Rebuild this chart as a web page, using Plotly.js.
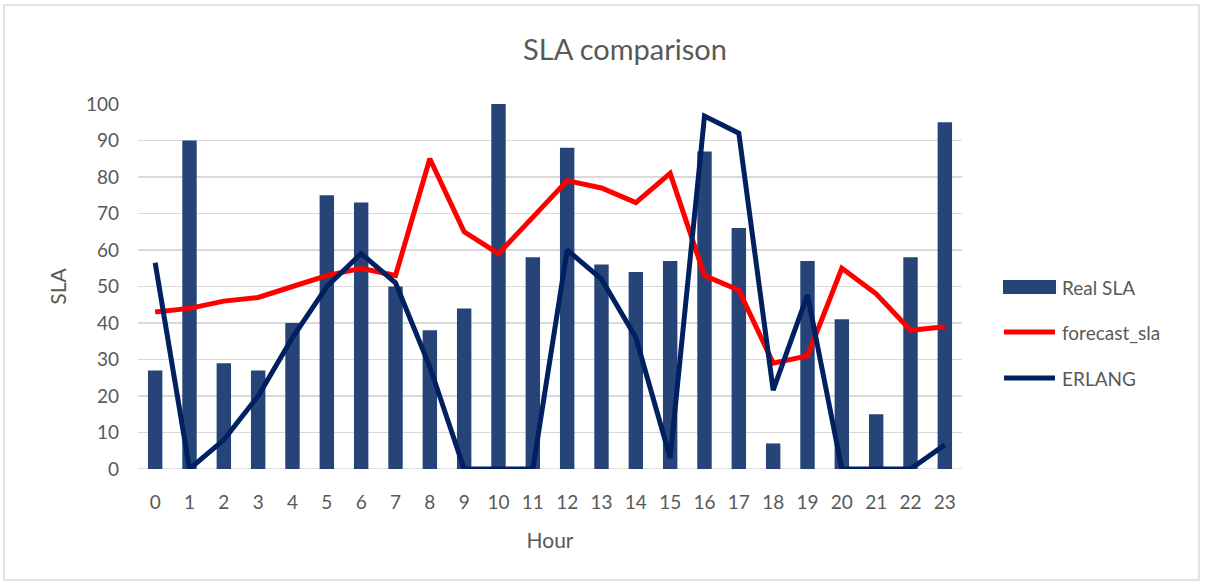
<!DOCTYPE html>
<html>
<head>
<meta charset="utf-8">
<script src="https://cdn.plot.ly/plotly-3.0.1.min.js"></script>
<style>html,body{margin:0;padding:0;background:#fff;}#chart{width:1205px;height:585px;}</style>
</head>
<body>
<div id="chart"></div>
<script>
const hours = [0,1,2,3,4,5,6,7,8,9,10,11,12,13,14,15,16,17,18,19,20,21,22,23];
const hourLabels = hours.map(String);
const realSLA = [27,90,29,27,40,75,73,50,38,44,100,58,88,56,54,57,87,66,7,57,41,15,58,95];
const forecastSLA = [43,44,46,47,50,53,55,53,85,65,59,69,79,77,73,81,53,49,29,31,55,48,38,39];
const erlang = [56.5,0,8,20,36,50,59,51,28,0,0,0,60,52,36,3,96.7,92,21.6,47.7,0,0,0,6.6];
const seriesNames = ['Real SLA','forecast_sla','ERLANG'];
const seriesColors = ['#264478','#ff0000','#002060'];

const FONT = "Lato, 'Open Sans', sans-serif";
const GREY = '#595959';

const traces = [
  {type:'bar', name:seriesNames[0], x:hours, y:realSLA, width:0.42,
   marker:{color:seriesColors[0]}, showlegend:false},
  {type:'scatter', mode:'lines', name:seriesNames[1], x:hours, y:forecastSLA,
   line:{color:seriesColors[1], width:5}, showlegend:false},
  {type:'scatter', mode:'lines', name:seriesNames[2], x:hours, y:erlang,
   line:{color:seriesColors[2], width:5}, showlegend:false}
];

const L=138, R=962, T=104, B=469, W=1205, H=585;
const pw=R-L, ph=B-T;
const px = v => (v-L)/pw;
const py = v => (B-v)/ph;

// custom legend (Excel style)
const legY = [287, 332, 378];
const shapes = [
  {type:'line', xref:'paper', yref:'y', x0:0, x1:1, y0:0, y1:0, line:{color:'#d9d9d9', width:1.5}, layer:'below'},
  {type:'rect', xref:'paper', yref:'paper', x0:px(4), x1:px(1199), y0:py(580), y1:py(5), line:{color:'#d9d9d9', width:1.5}, fillcolor:'rgba(0,0,0,0)', layer:'below'},
  {type:'rect', xref:'paper', yref:'paper', x0:px(1003), x1:px(1056), y0:py(legY[0]+7), y1:py(legY[0]-7), line:{width:0}, fillcolor:seriesColors[0]},
  {type:'line', xref:'paper', yref:'paper', x0:px(1004), x1:px(1055), y0:py(legY[1]), y1:py(legY[1]), line:{color:seriesColors[1], width:5}},
  {type:'line', xref:'paper', yref:'paper', x0:px(1004), x1:px(1055), y0:py(legY[2]), y1:py(legY[2]), line:{color:seriesColors[2], width:5}}
];
const annotations = seriesNames.map((n,i)=>({
  text:n, xref:'paper', yref:'paper', x:px(1060), y:py(legY[i]), xanchor:'left', yanchor:'middle',
  showarrow:false, font:{size:19, color:GREY, family:FONT}
}));

const layout = {
  width:W, height:H,
  margin:{l:L, r:W-R, t:T, b:H-B, pad:0},
  paper_bgcolor:'#fff', plot_bgcolor:'#fff',
  font:{family:FONT, color:GREY, size:19},
  title:{text:'SLA comparison', font:{size:29, color:GREY, family:FONT}, x:625/W, xref:'container', xanchor:'center', y:1-50/H, yanchor:'middle'},
  showlegend:false,
  bargap:0.58,
  xaxis:{range:[-0.5,23.5], tickmode:'array', tickvals:hours, ticktext:hourLabels,
    showgrid:false, zeroline:false, showline:false, ticks:'',
    tickfont:{size:19, color:GREY}, ticklabelstandoff:20,
    title:{text:'Hour', font:{size:21, color:GREY}, standoff:21}},
  yaxis:{range:[0,100], tickmode:'array', tickvals:[0,10,20,30,40,50,60,70,80,90,100],
    showgrid:true, gridcolor:'#d9d9d9', gridwidth:1.5, zeroline:false, showline:false,
    ticks:'', tickfont:{size:19, color:GREY}, ticklabelstandoff:18,
    title:{text:'SLA', font:{size:21, color:GREY}, standoff:13}},
  shapes:shapes,
  annotations:annotations
};
Plotly.newPlot('chart', traces, layout, {displayModeBar:false, staticPlot:true});
</script>
</body>
</html>
